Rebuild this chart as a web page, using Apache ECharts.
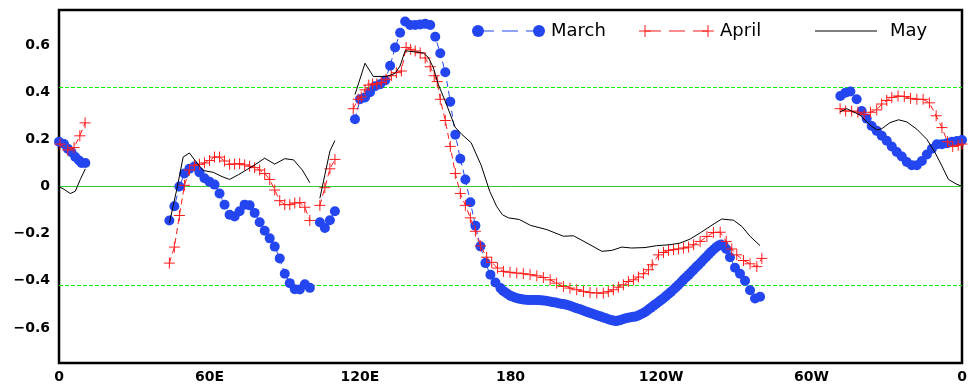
<!DOCTYPE html>
<html>
<head>
<meta charset="utf-8">
<script src="https://cdn.jsdelivr.net/npm/echarts@6/dist/echarts.min.js"></script>
<style>html,body{margin:0;padding:0;background:#fff}#c{width:970px;height:385px}</style>
</head>
<body>
<div id="c"></div>
<script>
// ---- data (longitude in degrees east, 0..360; null separates land gaps) ----
const lonTicks = [0, 60, 120, 180, 240, 300, 360];
const lonLabels = ['0', '60E', '120E', '180', '120W', '60W', '0'];
const yTicks = [-0.6, -0.4, -0.2, 0, 0.2, 0.4, 0.6];
const yRange = [-0.7488, 0.7488];
const sigLevel = 0.42;

const marchLon = [0,2,3.5,5,6.5,8,9,10.5, null,
  44,46,48,50,52,54,56,58,60,62,64,66,68,70,72,74,76,78,80,82,84,86,88,90,92,94,96,98,100, null,
  104,106,108,110, null,
  118,120,122,124,126,128,130,132,134,136,138,140,142,144,146,148,150,152,154,156,158,160,162,164,166,168,170,172,174,
  176,177,178,179,180,181,182,183,184,185,186,187,188,189,190,191,192,193,194,195,196,197,198,199,200,
  201,202,203,204,205,206,207,208,209,210,211,212,213,214,215,216,217,218,219,220,221,222,223,224,225,
  226,227,228,229,230,231,232,233,234,235,236,237,238,239,240,241,242,243,244,245,246,247,248,249,250,
  251,252,253,254,255,256,257,258,259,260,261,262,263,264,265,266,267.5,269.5,271.5,273.5,275.5,277.5,279.5, null,
  311.5,313.5,315.5,318,320,322,324,326,328,330,332,334,336,338,340,342,344,346,348,350,352,354,356,358,360];
const marchVal = [0.19,0.18,0.16,0.145,0.125,0.11,0.10,0.10, null,
  -0.144,-0.084,0.0,0.055,0.075,0.085,0.06,0.035,0.02,0.008,-0.03,-0.077,-0.12,-0.127,-0.105,-0.077,-0.08,-0.112,-0.152,-0.188,-0.22,-0.255,-0.305,-0.37,-0.41,-0.436,-0.437,-0.415,-0.43, null,
  -0.152,-0.176,-0.143,-0.105, null,
  0.285,0.37,0.378,0.40,0.425,0.434,0.45,0.512,0.59,0.652,0.70,0.685,0.685,0.687,0.69,0.685,0.635,0.565,0.485,0.36,0.22,0.118,0.03,-0.067,-0.166,-0.254,-0.325,-0.374,-0.407,
  -0.431,-0.442,-0.45,-0.457,-0.464,-0.468,-0.472,-0.475,-0.477,-0.479,-0.48,-0.481,-0.481,-0.481,-0.481,-0.482,-0.483,-0.484,-0.485,-0.487,-0.489,-0.491,-0.492,-0.495,-0.497,
  -0.499,-0.501,-0.504,-0.507,-0.511,-0.515,-0.519,-0.522,-0.526,-0.53,-0.534,-0.538,-0.541,-0.545,-0.548,-0.552,-0.556,-0.559,-0.563,-0.566,-0.569,-0.571,-0.569,-0.566,-0.562,
  -0.559,-0.557,-0.555,-0.553,-0.551,-0.547,-0.542,-0.537,-0.53,-0.522,-0.514,-0.506,-0.498,-0.49,-0.482,-0.474,-0.465,-0.456,-0.447,-0.437,-0.427,-0.417,-0.406,-0.395,-0.385,
  -0.375,-0.364,-0.353,-0.342,-0.332,-0.321,-0.31,-0.299,-0.288,-0.277,-0.267,-0.258,-0.25,-0.246,-0.252,-0.265,-0.30,-0.345,-0.37,-0.40,-0.44,-0.475,-0.468, null,
  0.384,0.398,0.403,0.37,0.32,0.288,0.257,0.236,0.215,0.194,0.17,0.146,0.127,0.104,0.09,0.09,0.108,0.136,0.16,0.179,0.179,0.183,0.19,0.193,0.197];

const aprilLon = [0.4,3.5,6,8.3,10.4, null,
  44,46,48,50,52,54,56,58,60,62,64,66,68,70,72,74,76,78,80,82,84,86,88,90,92,94,96,98,100, null,
  104,106,108,110, null,
  117.3,119.3,120.5,122,123.5,125,126.7,128.5,130.4,132.5,134.5,136.5,138.4,140.2,142,144,146,148,149.6,150.8,152,154,156,158,160,162,164,166,168,
  170.5,172.5,174.8,177.2,179.8,182.5,185.1,187.8,190.5,193.1,195.8,198.4,201.1,203.7,206.4,209.1,211.7,214.4,217,219,221,223,225,227,229,231,233,235,236.5,
  239,241,243,245,247,249,251,253,255.6,258.3,260.9,263.6,266,268.2,270.2,272.9,275.5,278.2,280.2, null,
  311.4,313.6,316,318.5,321,323.5,326,328,330,332,334.5,337,339.5,342,344.5,347,349.7,352,354.2,356.3,358.5,360];
const aprilVal = [0.18,0.155,0.165,0.215,0.27, null,
  -0.325,-0.257,-0.123,0.005,0.07,0.09,0.094,0.10,0.11,0.125,0.125,0.108,0.094,0.095,0.097,0.092,0.086,0.08,0.07,0.055,0.03,-0.015,-0.06,-0.077,-0.077,-0.07,-0.068,-0.088,-0.144, null,
  -0.08,-0.005,0.075,0.115, null,
  0.33,0.37,0.38,0.41,0.43,0.435,0.435,0.441,0.455,0.47,0.483,0.49,0.59,0.582,0.575,0.567,0.545,0.508,0.47,0.445,0.37,0.28,0.17,0.055,-0.03,-0.08,-0.133,-0.19,-0.252,
  -0.30,-0.322,-0.346,-0.36,-0.364,-0.367,-0.37,-0.374,-0.379,-0.386,-0.396,-0.41,-0.424,-0.431,-0.438,-0.445,-0.45,-0.452,-0.452,-0.446,-0.438,-0.427,-0.417,-0.403,-0.396,-0.384,-0.37,-0.353,-0.332,
  -0.29,-0.28,-0.271,-0.268,-0.265,-0.261,-0.257,-0.247,-0.233,-0.212,-0.195,-0.194,-0.233,-0.265,-0.29,-0.314,-0.328,-0.34,-0.305, null,
  0.33,0.32,0.32,0.315,0.305,0.315,0.325,0.35,0.365,0.378,0.384,0.382,0.374,0.37,0.37,0.355,0.30,0.25,0.19,0.17,0.175,0.18];

const mayLon = [0,2,4.5,6.5,8.5,10.5, null,
  44,47,49.5,52,55,57.5,61.5,65,68,71.5,75,78.5,82,86,90,93.5,97,100, null,
  104,106,108,110, null,
  118,122,125.3,130.6,134,136,138,142,145.3,147.2,149.2,151.2,154.6,157.9,160.6,164.3,168.3,171.7,174.5,176.8,179.2,183.5,188,194.5,
  201.1,205.1,211.7,216.4,220.4,224.4,228.3,233.6,238.3,243.6,247.6,251.6,255.6,259.6,264.2,268.9,272.2,275.5,279.5, null,
  311.4,314,316.7,319.4,323.4,326,328,331.3,334.7,338,342,346,349.3,352,354.6,358,360];
const mayVal = [0,-0.012,-0.03,-0.02,0.03,0.075, null,
  -0.155,-0.01,0.125,0.142,0.10,0.068,0.06,0.042,0.03,0.05,0.072,0.095,0.12,0.095,0.118,0.113,0.07,0.016, null,
  -0.05,0.05,0.15,0.195, null,
  0.39,0.523,0.467,0.467,0.48,0.512,0.576,0.571,0.566,0.548,0.505,0.434,0.345,0.252,0.221,0.186,0.09,-0.02,-0.085,-0.12,-0.133,-0.14,-0.165,-0.183,
  -0.211,-0.209,-0.247,-0.275,-0.271,-0.257,-0.261,-0.259,-0.251,-0.247,-0.24,-0.223,-0.197,-0.169,-0.138,-0.143,-0.169,-0.211,-0.251, null,
  0.317,0.33,0.317,0.302,0.26,0.24,0.245,0.271,0.283,0.274,0.243,0.20,0.143,0.087,0.03,0.009,0.001];

// ---- build ----
const BLUE = '#2346f0', RED = '#ff1a1a', GREEN = '#33cc33', DGREEN = '#00ee00';
const PLUS = 'path://M5,0L5,10M0,5L10,5';

function segments(lons, vals) {
  const out = []; let cur = [];
  lons.forEach((x, i) => {
    if (x === null) { if (cur.length) out.push(cur); cur = []; }
    else cur.push([x, vals[i]]);
  });
  if (cur.length) out.push(cur);
  return out;
}

function refLine(v, color, width, dashed) {
  return {
    type: 'line', data: [[lonTicks[0], v], [lonTicks[lonTicks.length - 1], v]],
    silent: true, z: 1, symbol: 'none', color: color,
    lineStyle: { color: color, width: width, type: dashed ? 'dashed' : 'solid', dashOffset: 0, opacity: 1 },
    emphasis: { disabled: true }
  };
}

const series = [];
series.push(refLine(0, GREEN, 1, false));
series.push(refLine(sigLevel, DGREEN, 1, true));
series.push(refLine(-sigLevel, DGREEN, 1, true));
segments(marchLon, marchVal).forEach(d => series.push({
  name: 'March', type: 'line', data: d, z: 3,
  symbol: 'circle', symbolSize: 10, showAllSymbol: true,
  itemStyle: { color: BLUE },
  lineStyle: { color: BLUE, width: 1, type: [6, 4] }
}));
segments(aprilLon, aprilVal).forEach(d => series.push({
  name: 'April', type: 'line', data: d, z: 4,
  symbol: PLUS, symbolSize: 11, showAllSymbol: true,
  itemStyle: { color: 'none', borderColor: RED, borderWidth: 1 },
  lineStyle: { color: RED, width: 1, type: [6, 4] }
}));
segments(mayLon, mayVal).forEach(d => series.push({
  name: 'May', type: 'line', data: d, z: 5, symbol: 'none',
  lineStyle: { color: '#000', width: 1 }
}));

const labelFont = { fontFamily: 'DejaVu Sans', fontWeight: 'bold', fontSize: 14, color: '#000' };
const legY = 31;
const legFont = { fontFamily: 'DejaVu Sans', fontSize: 18, fill: '#000', verticalAlign: 'middle' };

const option = {
  animation: false,
  backgroundColor: '#fff',
  grid: { left: 59, right: 8, top: 10, bottom: 22, show: true, borderColor: '#000', borderWidth: 2.5, containLabel: false },
  xAxis: {
    type: 'value', min: 0, max: 360, interval: 60,
    axisLine: { show: false, onZero: false },
    splitLine: { show: false },
    axisTick: { show: false },
    axisLabel: Object.assign({ margin: 7, formatter: v => lonLabels[lonTicks.indexOf(v)] }, labelFont)
  },
  yAxis: {
    type: 'value', min: yRange[0], max: yRange[1],
    axisLine: { show: false, onZero: false },
    splitLine: { show: false },
    axisTick: { show: false },
    axisLabel: Object.assign({ margin: 9, customValues: yTicks,
      formatter: v => (v < 0 ? '\u2212' : '') + Math.abs(v).toFixed(1).replace(/^0\.0$/, '0') }, labelFont)
  },
  graphic: [
    { type: 'line', shape: { x1: 478, y1: legY, x2: 539, y2: legY }, style: { stroke: BLUE, lineWidth: 1, lineDash: [16, 8] }, z: 10 },
    { type: 'circle', shape: { cx: 478, cy: legY, r: 6 }, style: { fill: BLUE }, z: 11 },
    { type: 'circle', shape: { cx: 539, cy: legY, r: 6 }, style: { fill: BLUE }, z: 11 },
    { type: 'text', x: 551, y: legY, style: Object.assign({ text: 'March' }, legFont), z: 11 },
    { type: 'line', shape: { x1: 645, y1: legY, x2: 708, y2: legY }, style: { stroke: RED, lineWidth: 1, lineDash: [16, 8] }, z: 10 },
    { type: 'polyline', shape: { points: [[639, legY], [651, legY]] }, style: { stroke: RED, lineWidth: 1 }, z: 11 },
    { type: 'polyline', shape: { points: [[645, legY - 6], [645, legY + 6]] }, style: { stroke: RED, lineWidth: 1 }, z: 11 },
    { type: 'polyline', shape: { points: [[702, legY], [714, legY]] }, style: { stroke: RED, lineWidth: 1 }, z: 11 },
    { type: 'polyline', shape: { points: [[708, legY - 6], [708, legY + 6]] }, style: { stroke: RED, lineWidth: 1 }, z: 11 },
    { type: 'text', x: 720, y: legY, style: Object.assign({ text: 'April' }, legFont), z: 11 },
    { type: 'line', shape: { x1: 815, y1: legY, x2: 877, y2: legY }, style: { stroke: '#000', lineWidth: 1 }, z: 10 },
    { type: 'text', x: 890, y: legY, style: Object.assign({ text: 'May' }, legFont), z: 11 }
  ],
  series: series
};

const chart = echarts.init(document.getElementById('c'), null, { renderer: 'canvas' });
chart.setOption(option);
</script>
</body>
</html>
